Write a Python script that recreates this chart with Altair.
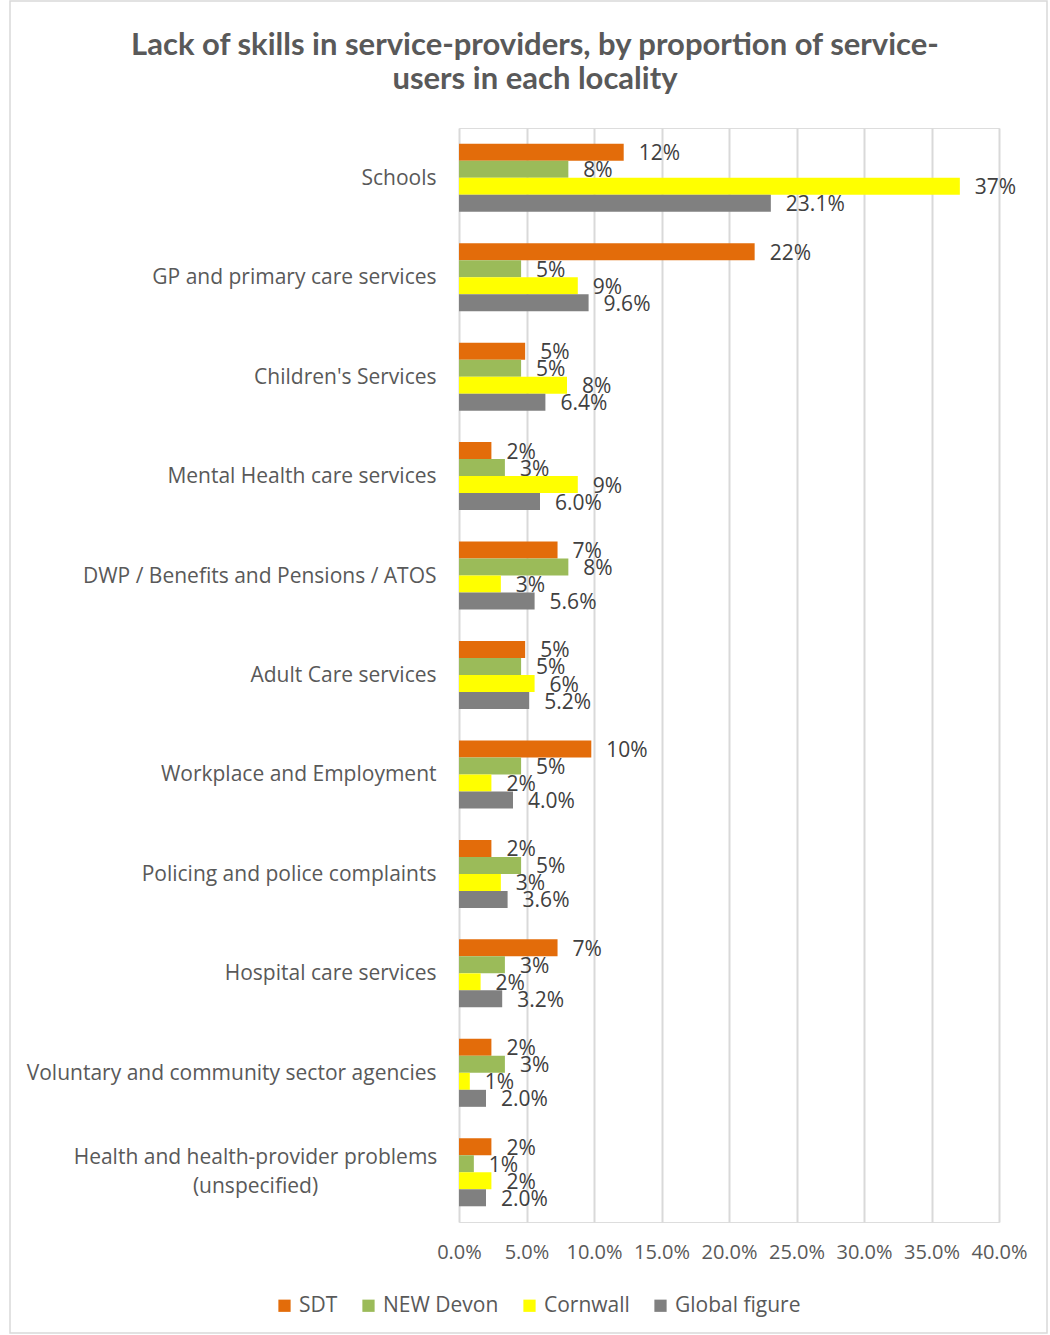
import altair as alt
import pandas as pd

# Categories (top to bottom); "|" marks a line break in the axis label
categories = [
    "Schools",
    "GP and primary care services",
    "Children's Services",
    "Mental Health care services",
    "DWP / Benefits and Pensions / ATOS",
    "Adult Care services",
    "Workplace and Employment",
    "Policing and police complaints",
    "Hospital care services",
    "Voluntary and community sector agencies",
    "Health and health-provider problems|(unspecified)",
]

series_names = ["SDT", "NEW Devon", "Cornwall", "Global figure"]
series_colors = ["#E36C0A", "#9BBB59", "#FFFF00", "#808080"]

# Percent of service-users in each locality
sdt = [12.2, 21.9, 4.9, 2.4, 7.3, 4.9, 9.8, 2.4, 7.3, 2.4, 2.4]
new_devon = [8.1, 4.6, 4.6, 3.4, 8.1, 4.6, 4.6, 4.6, 3.4, 3.4, 1.1]
cornwall = [37.1, 8.8, 8.0, 8.8, 3.1, 5.6, 2.4, 3.1, 1.6, 0.8, 2.4]
global_figure = [23.1, 9.6, 6.4, 6.0, 5.6, 5.2, 4.0, 3.6, 3.2, 2.0, 2.0]

x_ticks = [0, 5, 10, 15, 20, 25, 30, 35, 40]

title_lines = [
    "Lack of skills in service-providers, by proportion of service-",
    "users in each locality",
]

rows = []
for name, vals in zip(series_names, [sdt, new_devon, cornwall, global_figure]):
    for cat, v in zip(categories, vals):
        rows.append({"category": cat, "series": name, "value": v})
df = pd.DataFrame(rows)

FONT = "Open Sans"
TITLE_FONT = "Lato"
TEXT_GREY = "#595959"
FS = 21

multi_line = "indexof(datum.value, '|') >= 0"

y_enc = alt.Y(
    "category:N",
    sort=categories,
    scale=alt.Scale(paddingInner=0.316, paddingOuter=0.158),
    axis=alt.Axis(
        title=None,
        domain=False,
        ticks=False,
        grid=False,
        labelFont=FONT,
        labelFontSize=FS,
        labelColor=TEXT_GREY,
        labelPadding={"condition": {"test": multi_line, "value": 204}, "value": 23},
        labelAlign={"condition": {"test": multi_line, "value": "center"}, "value": "right"},
        labelOffset={"condition": {"test": multi_line, "value": -14}, "value": 1},
        labelLimit=0,
        labelLineHeight=29,
        labelExpr="split(datum.label, '|')",
    ),
)
y_off = alt.YOffset("series:N", sort=series_names, scale=alt.Scale(paddingInner=0, paddingOuter=0))
x_enc = alt.X(
    "value:Q",
    scale=alt.Scale(domain=[0, 40], nice=False),
    axis=alt.Axis(
        title=None,
        values=x_ticks,
        domain=False,
        ticks=False,
        grid=True,
        gridColor="#D9D9D9",
        gridWidth=2,
        labelFont=FONT,
        labelFontSize=FS - 1,
        labelColor=TEXT_GREY,
        labelPadding=20,
        labelOverlap=False,
        labelFlush=False,
        labelExpr="format(datum.value, '.1f') + '%'",
    ),
)

color_enc = alt.Color(
    "series:N",
    sort=series_names,
    scale=alt.Scale(domain=series_names, range=series_colors),
    legend=alt.Legend(
        title=None,
        orient="none",
        direction="horizontal",
        legendX=-185,
        legendY=1167,
        symbolType="square",
        symbolSize=150,
        symbolStrokeWidth=0,
        labelFont=FONT,
        labelFontSize=FS,
        labelColor=TEXT_GREY,
        columnPadding=20,
        labelOffset=4,
    ),
)

bars = alt.Chart(df).mark_bar(size=17).encode(
    x=x_enc,
    y=y_enc,
    yOffset=y_off,
    color=color_enc,
)

labels = alt.Chart(df).transform_calculate(
    label="datum.series == 'Global figure' ? format(datum.value, '.1f') + '%' : format(datum.value, '.0f') + '%'"
).mark_text(
    align="left", baseline="middle", dx=15, dy=2, font=FONT, fontSize=FS, color="#404040"
).encode(
    x="value:Q",
    y=alt.Y("category:N", sort=categories),
    yOffset=alt.YOffset("series:N", sort=series_names),
    text="label:N",
)

# Chart heading, centred over the whole figure
heading = alt.Chart(alt.Data(values=[{"t": title_lines}])).mark_text(
    font=TITLE_FONT, fontSize=31, fontWeight="bold", color=TEXT_GREY,
    align="center", baseline="middle", lineHeight=34,
).encode(
    x=alt.value(76), y=alt.value(-82), text="t:N"
)

frame = alt.Chart(alt.Data(values=[{}])).mark_rect(
    fill=None, stroke="#D9D9D9", strokeWidth=1.5
).encode(
    x=alt.value(-449), x2=alt.value(588), y=alt.value(-127), y2=alt.value(1205)
)

chart = alt.layer(frame, heading, bars, labels).properties(
    width=540,
    height=1094,
    padding={"left": 459, "top": 128, "right": 51, "bottom": 113},
    autosize=alt.AutoSizeParams(type="none"),
).configure_view(stroke=None).configure(background="white")

chart.save("out.html", embed_options={"renderer": "svg", "actions": False})
